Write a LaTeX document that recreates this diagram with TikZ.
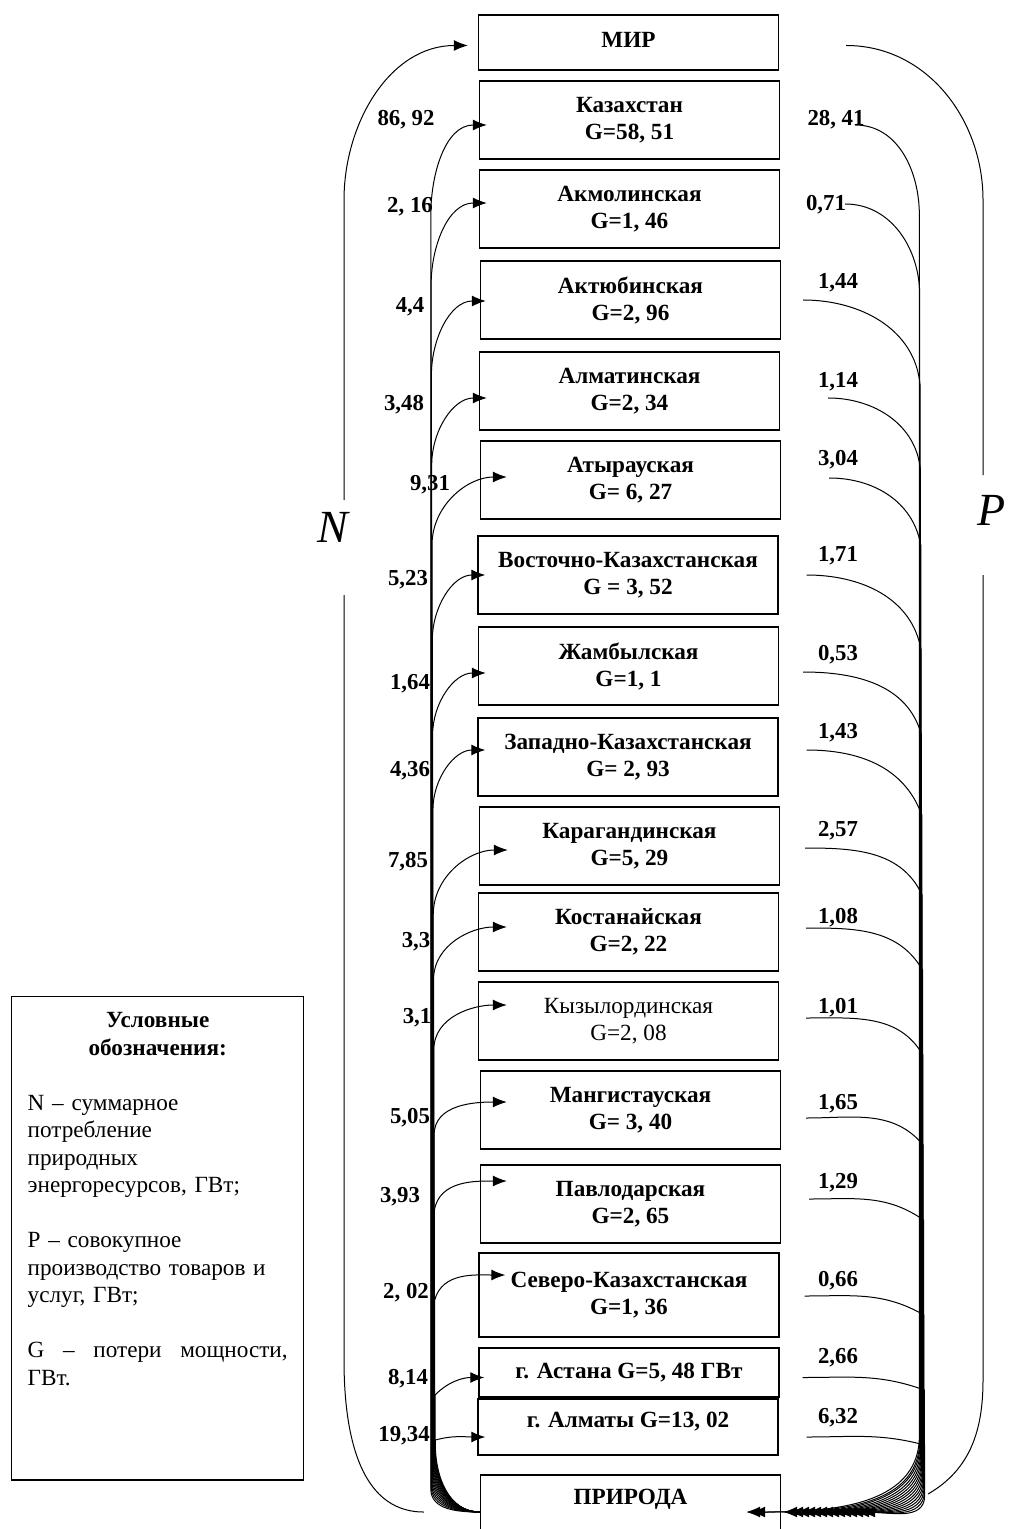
\documentclass[tikz,border=0pt]{standalone}
\usepackage{fontspec}
\setmainfont{Liberation Serif}
\usetikzlibrary{arrows.meta,calc}

\newcommand\regfont{\bfseries\fontsize{11.6}{13.5}\selectfont}
\newcommand\numfont{\bfseries\fontsize{11.4}{13}\selectfont}
\newcommand\legfont{\fontsize{11.6}{13.75}\selectfont}

\begin{document}
\begin{tikzpicture}[x=0.5pt,y=-0.5pt,>={Latex[length=7pt,width=5.5pt]},
 regbox/.style={draw,line width=0.7pt,minimum width=150pt,minimum height=39pt,align=center,font=\regfont,inner sep=1pt},
 flow/.style={line width=0.5pt},
 num/.style={font=\numfont,inner sep=1pt},
 letter/.style={font=\fontsize{23}{24}\selectfont\itshape,inner sep=1pt},
 legbox/.style={draw,line width=0.7pt,text width=130pt,align=left,font=\legfont,inner xsep=8pt,inner ysep=8pt}]
\useasboundingbox (0,0) rectangle (1009,1529);

% world, regions, nature
\node[regbox,minimum height=27.5pt,text depth=3pt] (mir) at (628.5,42.5) {МИР};
\node[regbox] (kaz) at (629.5,120) {Казахстан\\G=58, 51};
\node[regbox] (akm) at (629.5,209) {Акмолинская\\G=1, 46};
\node[regbox] (akt) at (630.5,300) {Актюбинская\\G=2, 96};
\node[regbox] (alm) at (629.5,391) {Алматинская\\G=2, 34};
\node[regbox] (aty) at (630.5,480) {Атырауская\\G= 6, 27};
\node[regbox] (vko) at (628,575) {Восточно-Казахстанская\\G = 3, 52};
\node[regbox] (zha) at (628.5,666) {Жамбылская\\G=1, 1};
\node[regbox] (zko) at (628,757) {Западно-Казахстанская\\G= 2, 93};
\node[regbox] (kar) at (629.5,846) {Карагандинская\\G=5, 29};
\node[regbox] (kos) at (628.5,932) {Костанайская\\G=2, 22};
\node[regbox,font=\mdseries\fontsize{11.6}{13.5}\selectfont] (kyz) at (628.5,1021) {Кызылординская\\G=2, 08};
\node[regbox] (man) at (630.5,1110) {Мангистауская\\G= 3, 40};
\node[regbox] (pav) at (630.5,1204) {Павлодарская\\G=2, 65};
\node[regbox,minimum height=42pt] (sko) at (629,1295) {Северо-Казахстанская\\G=1, 36};
\node[regbox,minimum height=24.5pt] (ast) at (629,1372.5) {г. Астана G=5, 48 ГВт};
\node[regbox,minimum height=28pt,text depth=7pt] (alt) at (628,1427) {г. Алматы G=13, 02};
\node[regbox,minimum height=37pt,text depth=15pt] (nat) at (630.5,1512) {ПРИРОДА};

% consumption from nature
\foreach \nm/\dx/\dy/\ys/\lo/\lx/\ly/\lt [count=\k] in {
  kaz/8/5/215/90/406/120/{86, 92}, akm/8/-6/285/90/410/207/{2, 16},
  akt/6/1/375/90/410/307/{4,4}, alm/8/7/465/90/404/405/{3,48},
  aty/27/-3/545/90/430/485/{9,31}, vko/8/0/640/90/408/580/{5,23},
  zha/8/7/735/90/410/684/{1,64}, zko/8/-7/810/90/410/771/{4,36},
  kar/29/4/915/90/408/862/{7,85}, kos/29/-5/980/90/416/942/{3,3},
  kyz/29/-16/1050/90/417/1018/{3,1}, man/27/-8/1135/90/410/1118/{5,05},
  pav/27/-23/1210/80/400/1197/{3,93}, sko/27/-20/1300/75/406/1293/{2, 02},
  ast/6/5/1395/45/408/1379/{8,14}, alt/8/10/1440/15/404/1436/{19,34}} {
  \pgfmathsetmacro\xk{430.5+0.3*\k}
  \pgfmathsetmacro\bk{1492-3*\k}
  \draw[flow,->] (nat.west) to[out=180,in=-90] (\xk,\bk) -- (\xk,\ys) to[out=\lo,in=180] ($(\nm.west)+(\dx,\dy)$);
  \node[num] (ln\k) at (\lx,\ly) {\lt};
}

% production back to nature
\foreach \nm/\dx/\dy/\jy/\ri/\ex/\rx/\ry/\rt [count=\k] in {
  kaz/75/5/215/90/-35/836/120/{28, 41}, akm/65/-5/295/90/-30/826/205/{0,71},
  akt/22/0/385/95/2/838/283/{1,44}, alm/48/7/470/95/8/838/382/{1,14},
  aty/48/-2/545/100/14/838/460/{3,04}, vko/28/0/650/100/20/838/556/{1,71},
  zha/24/6/735/105/26/838/655/{0,53}, zko/28/-7/815/110/32/838/733/{1,43},
  kar/25/2/895/115/38/838/831/{2,57}, kos/27/-4/970/120/44/838/918/{1,08},
  kyz/27/-3/1055/120/50/838/1008/{1,01}, man/25/8/1145/130/56/838/1104/{1,65},
  pav/28/-5/1220/145/62/838/1183/{1,29}, sko/25/1/1315/150/68/838/1281/{0,66},
  ast/23/5/1390/160/74/838/1358/{2,66}, alt/28/10/1445/165/80/838/1418/{6,32}} {
  \pgfmathsetmacro\xk{919+0.35*\k}
  \pgfmathsetmacro\bk{1432+4*\k}
  \draw[flow,->] ($(\nm.east)+(\dx,\dy)$) to[out=0,in=\ri] (\xk,\jy) -- (\xk,\bk) to[out=-90,in=0] ($(nat.east)+(\ex,0)$);
  \node[num] (rn\k) at (\rx,\ry) {\rt};
}

% N and P
\node[letter] (ncap) at (333,527) {N};
\node[letter] (pcap) at (992,510) {P};
\coordinate (ngapt) at (344,500);
\coordinate (ngapb) at (344,595);
\coordinate (pgapt) at (983,475);
\coordinate (pgapb) at (983,575);
\draw[flow,->] ($(nat.west)+(-56,0)$) to[out=180,in=-90] (344,1360) -- (ngapb)
  (ngapt) -- (344,200) to[out=90,in=180] ($(mir.west)+(-10,3)$);
\draw[flow] ($(mir.east)+(67,3)$) to[out=0,in=90] (983,200) -- (pgapt)
  (pgapb) -- (983,1380) to[out=-90,in=30] (928,1494);

% legend
\node[legbox,anchor=north west,text depth=218pt] (leg) at (11,996) {%
\hfill\textbf{Условные}\hfill\null\\
\hfill\textbf{обозначения:}\hfill\null\\[13.75pt]
N -- суммарное\\
потребление\\
природных\\
энергоресурсов, ГВт;\\[13.75pt]
P -- совокупное\\
производство товаров и\\
услуг, ГВт;\\[13.75pt]
G\hfill --\hfill потери\hfill мощности,\\
ГВт.};
\end{tikzpicture}
\end{document}
